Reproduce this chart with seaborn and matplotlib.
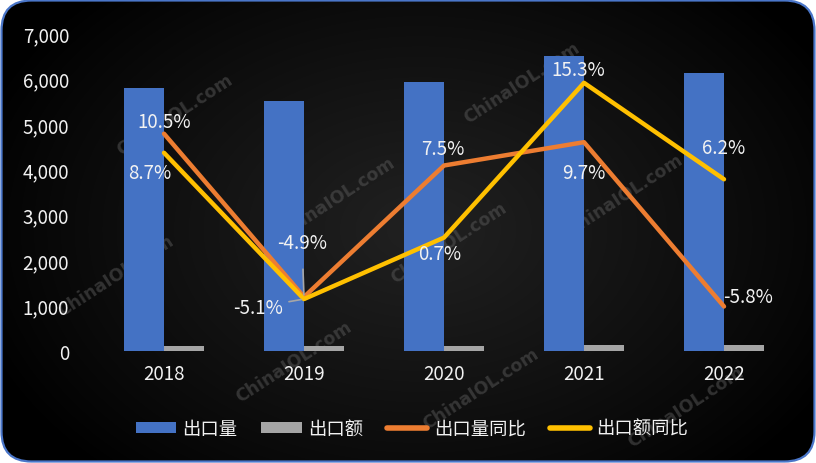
import numpy as np
import pandas as pd
import matplotlib
matplotlib.use('Agg')
import matplotlib.pyplot as plt
import seaborn as sns
from matplotlib.patches import FancyBboxPatch, Patch
from matplotlib.lines import Line2D
from matplotlib.ticker import FuncFormatter

# ---- data ----
years = ['2018', '2019', '2020', '2021', '2022']
export_volume = [5790, 5500, 5920, 6490, 6120]
export_value = [100, 105, 105, 128, 125]
volume_yoy = [10.5, -4.9, 7.5, 9.7, -5.8]
value_yoy = [8.7, -5.1, 0.7, 15.3, 6.2]
series_names = ['出口量', '出口额', '出口量同比', '出口额同比']

BLUE, GRAY, ORANGE, YELLOW = '#4472C4', '#A5A5A5', '#ED7D31', '#FFC000'
TXT = '#f2f2f2'

sns.set_theme(style='white')
plt.rcParams['font.family'] = ['Noto Sans CJK SC', 'DejaVu Sans']

fig = plt.figure(figsize=(8.16, 4.64), dpi=100, facecolor='white')

# ---- background with rounded border and radial gradient ----
bg = fig.add_axes([0, 0, 1, 1], zorder=0)
bg.set_xlim(0, 816)
bg.set_ylim(464, 0)
bg.axis('off')
border = FancyBboxPatch((1.5, 1.5), 813, 461, boxstyle='round,pad=0,rounding_size=30',
                        facecolor='none', edgecolor='#4a76c9', lw=1.6, zorder=5)
bg.add_patch(border)
yy, xx = np.mgrid[0:464, 0:816]
r = np.sqrt(((xx - 420) / 470.0) ** 2 + ((yy - 230) / 330.0) ** 2)
v = 0.13 * np.clip(1 - r, 0, 1) ** 0.9
img = np.dstack([v, v, v])
im = bg.imshow(img, extent=[0, 816, 464, 0], aspect='auto', zorder=1, interpolation='bilinear')
im.set_clip_path(border)

# watermarks
wm_pos = [(175, 115), (116, 276), (337, 198), (522, 83), (449, 243),
          (625, 195), (294, 362), (481, 389), (686, 407)]
for (px, py) in wm_pos:
    bg.text(px, py, 'ChinaIOL.com', rotation=33, ha='center', va='center',
            fontsize=12.5, fontweight='bold', color='#5a5a5a', alpha=0.5,
            family='DejaVu Sans', zorder=2)

# ---- main axes ----
ax = fig.add_axes([94 / 816, 112 / 464, 700 / 816, 318 / 464], zorder=1)
ax.patch.set_alpha(0)

df_bar = pd.DataFrame({
    'year': years * 2,
    'value': export_volume + export_value,
    'series': [series_names[0]] * 5 + [series_names[1]] * 5,
})
sns.barplot(data=df_bar, x='year', y='value', hue='series',
            palette=[BLUE, GRAY], width=0.571, saturation=1, ax=ax, legend=False,
            edgecolor='none', linewidth=0)
ax.set_xlim(-0.5, 4.5)
ax.set_ylim(0, 7000)
ax.set_yticks(range(0, 7001, 1000))
ax.yaxis.set_major_formatter(FuncFormatter(lambda x, p: f'{int(x):,}'))
ax.set_xlabel('')
ax.set_ylabel('')
for s in ax.spines.values():
    s.set_visible(False)
ax.tick_params(axis='y', length=0, pad=18, labelsize=13.5, labelcolor=TXT)
ax.tick_params(axis='x', length=0, pad=9, labelsize=13.5, labelcolor=TXT)
for t in ax.get_xticklabels() + ax.get_yticklabels():
    t.set_fontweight('light')
ax.grid(False)

# ---- lines on hidden secondary axis ----
ax2 = ax.twinx()
ax2.patch.set_alpha(0)
x_idx = np.arange(len(years))
sns.lineplot(x=x_idx, y=volume_yoy, color=ORANGE, lw=3.2, ax=ax2,
             solid_capstyle='round', solid_joinstyle='round')
sns.lineplot(x=x_idx, y=value_yoy, color=YELLOW, lw=3.2, ax=ax2,
             solid_capstyle='round', solid_joinstyle='round')
ax2.set_ylim(-10, 20)
ax2.set_xlim(-0.5, 4.5)
ax2.set_yticks([])
ax2.set_ylabel('')
for s in ax2.spines.values():
    s.set_visible(False)
ax2.grid(False)

# label offsets (pixels)
vol_off = [(0, 12), (-2, 54), (-1, 17), (0, -30), (24, 10)]
val_off = [(-14, -20), (-46, -8), (-4, -16), (-6, 13), (0, 32)]
for i in range(5):
    for vals, offs, key in ((volume_yoy, vol_off, 'vol'), (value_yoy, val_off, 'val')):
        ap = None
        if i == 1 and key == 'vol':
            ap = dict(arrowstyle='-', color='#a6a6a6', lw=1.2, shrinkA=9, shrinkB=1.5)
        if i == 1 and key == 'val':
            ap = dict(arrowstyle='-', color='#a6a6a6', lw=1.2, shrinkA=2, shrinkB=2)
        ax2.annotate(f'{vals[i]:.1f}%', xy=(x_idx[i], vals[i]), xytext=offs[i],
                     textcoords='offset pixels', ha='center', va='center',
                     fontsize=13.5, fontweight='light', color=TXT, arrowprops=ap, zorder=6)

# ---- legend ----
handles = [Patch(facecolor=BLUE, edgecolor='none'),
           Patch(facecolor=GRAY, edgecolor='none'),
           Line2D([0], [0], color=ORANGE, lw=4, solid_capstyle='round'),
           Line2D([0], [0], color=YELLOW, lw=4, solid_capstyle='round')]
fig.legend(handles, series_names, loc='center', bbox_to_anchor=(412 / 816, 1 - 430 / 464),
           ncol=4, frameon=False, fontsize=13.2, labelcolor=TXT, handlelength=2.2,
           handleheight=0.6, handletextpad=0.35, columnspacing=1.3)

fig.savefig('out.png', dpi=100, facecolor=fig.get_facecolor())
